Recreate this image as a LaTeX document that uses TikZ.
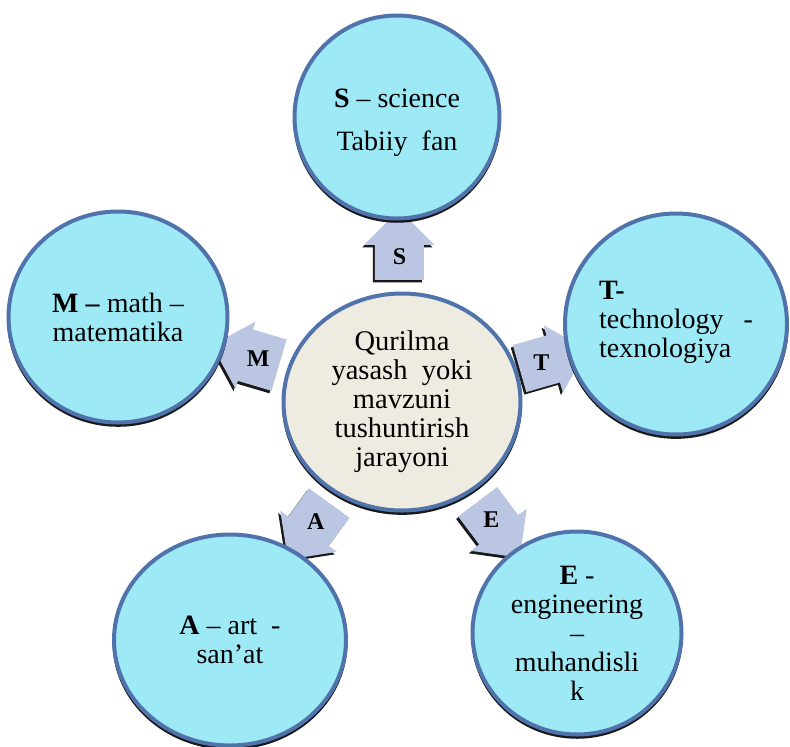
\documentclass[tikz,border=0pt]{standalone}
\usepackage{fontspec}
\setmainfont{Liberation Serif}
\usetikzlibrary{shapes.geometric,shapes.arrows,shadows,calc,backgrounds}
\definecolor{circfill}{RGB}{157,233,246}
\definecolor{edgeblue}{RGB}{79,115,170}
\definecolor{middlefill}{RGB}{238,235,224}
\definecolor{arrowfill}{RGB}{186,198,226}

\begin{document}
\begin{tikzpicture}[x=1pt,y=-1pt,thin,
	main node/.style = {ellipse,draw=edgeblue,line width=4pt,fill=circfill,inner sep=0pt,align=center,
		font=\fontsize{28}{29}\selectfont,
		drop shadow={shadow xshift=0pt,shadow yshift=-3pt,shadow scale=1.012,fill=black,opacity=0.9}},
	middle node/.style = {main node,fill=middlefill,font=\fontsize{28.5}{29}\selectfont},
	arrow node/.style = {single arrow,shape border uses incircle,fill=arrowfill,minimum height=70pt,minimum width=70pt,
		single arrow head extend=5pt,inner sep=0pt,font=\fontsize{24}{24}\selectfont\bfseries,
		drop shadow={shadow xshift=-2pt,shadow yshift=-2.5pt,fill=black,opacity=0.9}}]

	\useasboundingbox (0,0) rectangle (790,747);

	\node[middle node,minimum width=237pt,minimum height=217pt] (0) at (402,402)
		{Qurilma\\yasash\ \ yoki\\mavzuni\\tushuntirish\\jarayoni};
	\node[main node,minimum width=205pt,minimum height=203pt] (1) at (397,117)
		{\mbox{}\\[2pt]\textbf{S} – science\\[14pt]Tabiiy\ \ fan};
	\node[main node,minimum width=222pt,minimum height=221pt,align=left] (2) at (676,324)
		{\textbf{T-}\\technology\hspace{20pt}-\\texnologiya\\[-19pt]\mbox{}};
	\node[main node,minimum width=209pt,minimum height=203pt] (3) at (577,633)
		{\textbf{E} -\\engineering\\–\\muhandisli\\k};
	\node[main node,minimum width=232pt,minimum height=211pt] (4) at (230,640)
		{\textbf{A} – art\ \ -\\san’at};
	\node[main node,minimum width=219pt,minimum height=211pt] (5) at (118,317)
		{\textbf{M –} math –\\matematika};

	% arrows sit under the circles
	\begin{pgfonlayer}{background}
		\node[arrow node,shape border rotate=90] (s) at ($(0)!145pt!(1)$) {S};
		\node[arrow node,shape border rotate=16] (t) at ($(0)!145pt!(2)$) {T};
		\node[arrow node,shape border rotate=-53] (e) at ($(0)!148pt!(3)$) {E};
		\node[arrow node,shape border rotate=234] (a) at ($(0)!147pt!(4)$) {A};
		\node[arrow node,shape border rotate=163.5] (m) at ($(0)!150pt!(5)$) {M};
	\end{pgfonlayer}
\end{tikzpicture}
\end{document}
